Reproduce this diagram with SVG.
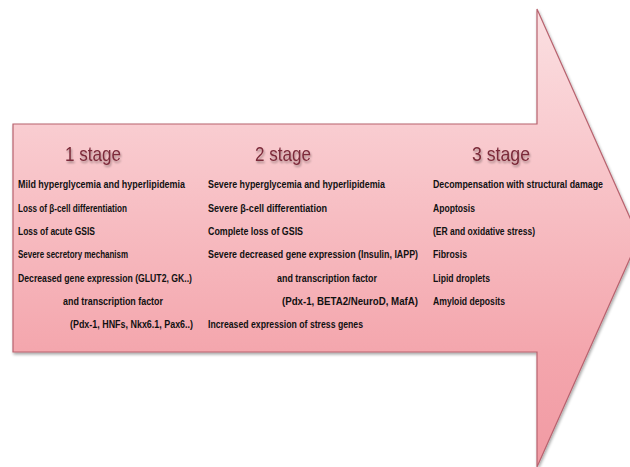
<svg xmlns="http://www.w3.org/2000/svg" width="630" height="467" viewBox="0 0 630 467">
<defs>
<linearGradient id="g" x1="0" y1="9" x2="0" y2="466" gradientUnits="userSpaceOnUse">
<stop offset="0" stop-color="#fbe0e2"/>
<stop offset="0.25" stop-color="#f9cdd1"/>
<stop offset="0.75" stop-color="#f4a6ad"/>
<stop offset="1" stop-color="#f19aa3"/>
</linearGradient>
<filter id="sh" x="-5%" y="-5%" width="110%" height="115%">
<feGaussianBlur in="SourceAlpha" stdDeviation="1.5"/>
<feOffset dx="1" dy="2" result="b"/>
<feComponentTransfer><feFuncA type="linear" slope="0.35"/></feComponentTransfer>
<feMerge><feMergeNode/><feMergeNode in="SourceGraphic"/></feMerge>
</filter>
<filter id="tsh" x="-10%" y="-20%" width="130%" height="160%">
<feGaussianBlur in="SourceAlpha" stdDeviation="0.8"/>
<feOffset dx="1" dy="1.5"/>
<feComponentTransfer><feFuncA type="linear" slope="0.35"/></feComponentTransfer>
<feMerge><feMergeNode/><feMergeNode in="SourceGraphic"/></feMerge>
</filter>
</defs>
<style>
.t{font-family:"Liberation Sans",Arial,sans-serif;font-size:10.5px;font-weight:bold;fill:#111;}
.h{font-family:"Liberation Sans",Arial,sans-serif;font-size:21px;fill:#7b2b3a;}
</style>
<rect width="630" height="467" fill="#ffffff"/>
<g id="arrow">
<path d="M13,124 L537,124 L537,9 L639,238 L537,467 L537,352 L13,352 Z" fill="url(#g)" stroke="#b8636f" stroke-width="1.2" filter="url(#sh)"/>
</g>
<g id="stage1">
<text class="h" x="65" y="161" textLength="56" lengthAdjust="spacingAndGlyphs" filter="url(#tsh)">1 stage</text>
<text class="t" x="18" y="188" textLength="167" lengthAdjust="spacingAndGlyphs">Mild hyperglycemia and hyperlipidemia</text>
<text class="t" x="18" y="212" textLength="109" lengthAdjust="spacingAndGlyphs">Loss of β-cell differentiation</text>
<text class="t" x="18" y="235" textLength="77" lengthAdjust="spacingAndGlyphs">Loss of acute GSIS</text>
<text class="t" x="18" y="258" textLength="110" lengthAdjust="spacingAndGlyphs">Severe secretory mechanism</text>
<text class="t" x="18" y="282" textLength="174" lengthAdjust="spacingAndGlyphs">Decreased gene expression (GLUT2, GK..)</text>
<text class="t" x="63" y="305" textLength="100" lengthAdjust="spacingAndGlyphs">and transcription factor</text>
<text class="t" x="70" y="328" textLength="123" lengthAdjust="spacingAndGlyphs">(Pdx-1, HNFs, Nkx6.1, Pax6..)</text>
</g>
<g id="stage2">
<text class="h" x="255" y="161" textLength="56" lengthAdjust="spacingAndGlyphs" filter="url(#tsh)">2 stage</text>
<text class="t" x="208" y="188" textLength="177" lengthAdjust="spacingAndGlyphs">Severe hyperglycemia and hyperlipidemia</text>
<text class="t" x="208" y="212" textLength="119" lengthAdjust="spacingAndGlyphs">Severe β-cell differentiation</text>
<text class="t" x="208" y="235" textLength="95" lengthAdjust="spacingAndGlyphs">Complete loss of GSIS</text>
<text class="t" x="208" y="258" textLength="210" lengthAdjust="spacingAndGlyphs">Severe decreased gene expression (Insulin, IAPP)</text>
<text class="t" x="277" y="282" textLength="100" lengthAdjust="spacingAndGlyphs">and transcription factor</text>
<text class="t" x="282" y="305" textLength="136" lengthAdjust="spacingAndGlyphs">(Pdx-1, BETA2/NeuroD, MafA)</text>
<text class="t" x="208" y="328" textLength="155" lengthAdjust="spacingAndGlyphs">Increased expression of stress genes</text>
</g>
<g id="stage3">
<text class="h" x="472" y="161" textLength="58" lengthAdjust="spacingAndGlyphs" filter="url(#tsh)">3 stage</text>
<text class="t" x="433" y="188" textLength="170" lengthAdjust="spacingAndGlyphs">Decompensation with structural damage</text>
<text class="t" x="433" y="212" textLength="42" lengthAdjust="spacingAndGlyphs">Apoptosis</text>
<text class="t" x="433" y="235" textLength="102" lengthAdjust="spacingAndGlyphs">(ER and oxidative stress)</text>
<text class="t" x="433" y="258" textLength="34" lengthAdjust="spacingAndGlyphs">Fibrosis</text>
<text class="t" x="433" y="282" textLength="57" lengthAdjust="spacingAndGlyphs">Lipid droplets</text>
<text class="t" x="433" y="305" textLength="72" lengthAdjust="spacingAndGlyphs">Amyloid deposits</text>
</g>
</svg>
